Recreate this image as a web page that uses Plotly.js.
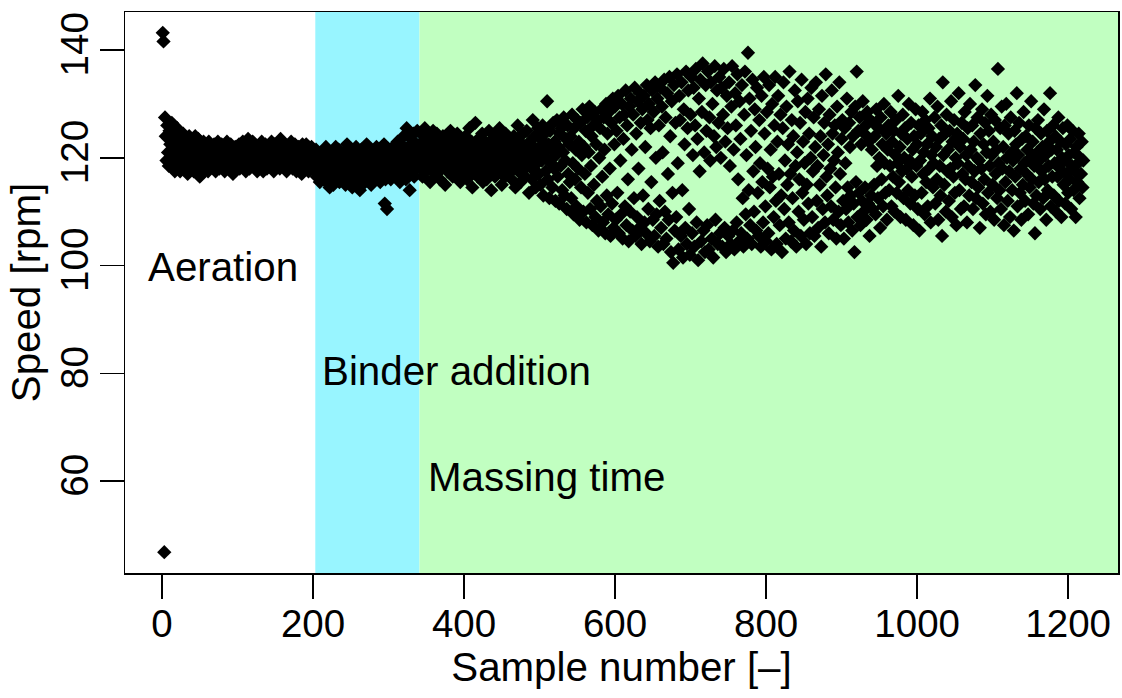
<!DOCTYPE html>
<html>
<head>
<meta charset="utf-8">
<script src="https://cdn.plot.ly/plotly-3.0.1.min.js"></script>
<style>html,body{margin:0;padding:0;background:#fff;}#chart{width:1122px;height:698px;}</style>
</head>
<body>
<div id="chart"></div>
<script>
// Speed [rpm] per sample, by process phase
const aerationSpeed = [
143.2,141.6,46.8,127.5,124.0,119.5,126.0,121.0,118.5,125.0,122.5,120.0,126.5,119.0,123.5,121.0,117.5,124.5,120.5,125.5,
118.5,122.0,124.0,117.5,123.0,120.0,121.5,124.5,118.0,122.5,119.5,123.5,120.5,117.0,122.0,124.0,119.0,121.5,118.0,123.0,
120.5,117.5,122.5,124.0,119.0,121.0,118.5,123.5,120.0,116.5,122.0,119.5,121.5,117.5,123.0,120.5,118.0,122.5,119.0,121.0,
117.5,123.0,120.0,118.5,122.0,119.5,121.5,118.0,122.5,120.0,117.5,121.5,119.0,123.0,120.5,118.0,121.0,119.5,122.5,118.5,
120.5,122.0,117.5,121.0,119.0,123.0,120.0,118.0,121.5,119.5,122.5,118.5,120.5,117.0,121.5,119.0,122.0,120.5,118.0,121.0,
119.5,122.5,118.0,120.5,121.5,118.5,123.0,120.0,119.0,122.0,117.5,121.0,119.5,123.5,120.5,118.0,122.0,119.0,121.5,123.0,
118.5,120.5,122.5,119.0,121.0,117.5,122.0,120.0,118.5,121.5,119.5,123.0,120.5,117.5,121.0,119.0,122.5,120.0,118.0,121.5,
119.5,122.0,118.5,120.5,123.0,119.0,121.0,117.5,122.5,120.0,118.5,121.5,119.5,122.0,120.5,118.0,123.5,119.0,121.0,118.5,
120.5,122.5,119.0,121.5,117.5,120.0,122.0,118.5,121.0,119.5,123.0,120.0,118.0,121.5,119.0,122.5,120.5,117.5,121.0,119.5,
122.0,118.5,120.5,121.5,117.0,122.5,119.5,120.5,118.0,121.0,122.5,119.0,120.0,117.5,121.5,119.5,118.5,122.0,120.0,118.0,
121.0,119.0
];
const binderSpeed = [
118.0,121.5,116.5,119.5,117.0,120.5,115.5,118.5,121.0,117.0,119.5,116.0,120.0,118.0,122.0,115.5,119.0,117.5,120.5,114.5,
118.5,121.0,116.5,119.0,115.0,120.5,117.5,122.0,118.0,116.0,119.5,121.5,115.5,118.0,120.0,116.5,119.0,117.0,121.0,118.5,
115.0,119.5,122.5,117.0,120.0,116.0,118.5,121.0,117.5,114.5,119.0,120.5,116.5,118.0,122.0,117.0,119.5,115.5,120.0,114.0,
118.5,121.5,116.0,119.0,117.5,120.5,115.5,118.0,122.5,117.0,119.5,116.5,120.0,118.5,115.0,121.0,117.5,119.0,116.0,120.5,
118.0,122.0,116.5,119.5,117.0,121.0,115.5,118.5,120.0,117.5,119.0,122.5,111.5,116.0,120.5,110.5,118.0,121.5,117.0,119.5,
116.0,120.5,118.5,122.0,117.5,119.0,121.5,116.5,120.0,123.0,118.0,121.0,115.5,119.5,122.5,117.5,120.5,124.0,118.5,121.5,
116.0,125.5,119.5,122.0,117.5,114.0,120.5,123.5,118.5,121.0,124.5,116.5,120.0,122.5,118.0,125.0,119.5,121.5
];
const massingSpeed = [
122.5,118.0,124.5,120.0,116.5,123.0,119.5,125.5,121.0,117.5,122.0,124.0,119.0,121.5,115.5,123.5,120.5,118.0,125.0,121.5,
117.0,122.5,120.0,124.5,118.5,121.0,123.5,116.0,120.5,122.0,118.0,124.0,119.5,121.5,115.0,122.5,120.0,117.5,123.0,119.0,
121.5,125.0,118.5,120.5,116.5,123.5,119.0,122.0,117.0,121.0,124.5,118.5,120.0,122.5,115.5,119.5,123.0,117.5,121.5,120.0,
118.0,124.0,120.5,116.0,122.5,119.0,125.5,121.0,117.5,123.0,114.5,120.0,122.0,118.5,126.5,119.5,121.5,116.5,123.5,120.5,
117.0,122.0,119.0,124.5,115.5,121.0,118.0,123.0,120.5,116.0,122.5,119.5,125.0,117.5,121.0,114.0,120.0,123.5,118.5,121.5,
116.5,124.0,119.0,122.0,117.5,120.5,125.5,118.0,121.5,115.0,123.0,119.5,121.0,116.5,124.5,120.0,118.0,122.5,117.0,121.0,
119.5,123.5,116.0,121.5,118.5,124.0,120.0,114.5,122.0,119.0,126.0,117.5,121.0,123.0,115.5,120.5,118.0,124.5,119.5,122.0,
116.5,121.5,125.0,118.5,120.0,113.5,123.0,119.0,122.5,116.0,127.0,120.5,117.5,124.0,114.5,121.0,119.0,125.5,117.0,122.0,
115.0,123.5,119.5,126.0,113.0,121.0,124.5,117.5,120.0,130.5,116.0,122.5,112.5,125.0,119.0,121.5,114.5,126.5,118.0,123.0,
112.0,120.5,127.0,116.5,122.0,111.5,124.5,118.5,125.5,114.0,121.0,127.5,113.0,119.5,123.5,110.5,126.0,117.0,122.5,115.5,
124.0,112.5,128.0,119.0,109.5,125.5,116.0,121.5,111.0,127.0,118.0,123.0,108.5,126.5,114.5,120.5,129.0,110.0,122.0,117.0,
125.0,108.0,127.5,113.5,121.0,129.5,110.5,118.5,124.0,107.5,126.0,115.0,128.5,109.0,122.5,112.0,127.0,106.5,120.0,125.5,
111.0,129.0,116.5,108.0,127.5,121.5,106.0,130.0,113.0,124.5,109.5,128.5,118.0,105.5,126.5,111.5,131.0,107.0,122.5,129.5,
108.5,125.0,113.5,131.5,106.0,127.5,119.5,109.5,130.0,105.0,123.5,128.0,111.0,132.5,107.5,126.0,116.0,104.5,129.5,110.0,
131.0,121.5,106.5,128.0,112.5,133.0,105.5,124.5,109.0,130.5,118.0,107.0,132.0,126.5,104.0,129.0,113.0,131.5,108.0,122.0,
106.0,133.5,127.0,110.5,130.0,104.5,125.5,115.5,132.5,108.5,128.5,105.5,134.0,120.0,109.5,131.0,103.5,126.0,112.0,133.0,
107.0,129.5,121.0,104.0,134.5,110.0,127.5,105.0,132.0,117.0,108.5,135.0,124.0,102.5,130.5,113.5,100.5,133.5,106.5,126.5,
109.0,135.5,119.0,103.0,131.5,127.0,105.5,134.0,114.0,101.5,129.0,122.5,107.0,136.0,104.0,125.5,132.5,110.5,102.0,128.0,
135.0,106.0,120.5,133.0,103.5,126.0,136.5,108.0,123.5,101.0,131.0,117.5,134.5,104.5,128.5,137.5,106.5,121.0,102.5,133.5,
125.0,107.5,136.0,103.0,127.5,119.5,134.0,105.0,130.0,101.5,124.0,137.0,108.5,122.0,132.5,104.0,126.5,135.0,106.0,120.0,
133.0,103.5,128.0,136.5,107.0,123.0,102.5,131.5,125.5,105.5,134.0,118.5,104.0,129.5,137.0,106.5,121.5,103.0,132.0,126.0,
108.0,135.5,116.0,104.5,130.5,123.5,106.0,133.5,112.5,103.5,128.0,136.0,109.5,120.5,105.0,139.5,114.0,131.0,107.5,125.0,
104.0,134.5,117.5,110.0,129.0,122.0,106.5,133.0,113.5,105.5,127.0,119.0,103.5,131.5,115.5,108.0,135.0,124.5,111.0,104.5,
128.5,118.0,106.0,133.5,114.5,121.5,103.0,130.0,116.5,109.0,126.0,135.0,112.0,104.0,123.0,131.5,117.0,107.5,128.0,113.0,
102.5,125.5,134.0,110.5,119.5,105.0,129.5,115.0,122.5,108.0,136.0,117.0,104.5,127.0,112.5,124.0,106.5,132.5,118.5,103.5,
121.0,130.5,110.0,116.0,126.5,105.5,134.5,113.5,123.0,108.5,119.0,128.5,104.0,115.0,131.0,111.5,124.5,106.0,120.0,133.0,
109.0,117.5,127.5,105.5,122.0,134.0,112.0,118.5,107.0,129.0,115.0,124.0,103.5,131.5,110.5,120.5,126.5,108.0,135.5,116.5,
113.0,122.5,106.0,128.0,118.0,111.0,132.5,124.5,108.5,119.5,126.0,114.5,105.0,129.5,121.0,110.0,134.0,117.0,107.5,123.5,
127.0,112.0,105.0,125.5,119.0,110.5,131.0,114.5,108.0,126.5,122.0,113.0,128.5,106.5,124.0,111.5,102.5,129.5,115.5,136.0,
109.0,125.0,113.5,127.5,107.5,122.5,112.0,130.5,110.0,124.5,114.5,126.0,108.5,128.5,111.5,123.0,105.5,127.0,113.0,121.5,
110.5,126.5,115.0,124.0,109.5,129.0,118.5,112.5,125.5,120.0,107.0,127.5,116.0,122.5,111.0,130.0,119.0,113.5,124.5,108.5,
121.5,126.0,114.0,118.5,128.5,111.0,123.0,116.5,125.0,110.0,120.5,127.0,113.5,119.0,131.5,115.5,122.0,109.0,124.5,117.5,
128.0,112.5,120.0,125.5,108.5,118.0,123.5,114.0,130.0,119.5,111.5,126.5,116.5,121.5,107.5,124.0,113.0,129.0,118.5,122.5,
110.5,126.0,106.5,119.5,124.5,113.5,128.5,117.0,121.0,109.5,127.0,115.5,122.5,111.0,125.5,118.0,131.0,108.0,120.5,124.0,
114.5,119.0,127.5,111.5,122.0,116.0,129.5,108.5,123.5,118.5,113.0,126.0,105.5,134.0,120.5,115.0,124.5,110.0,128.0,117.5,
121.5,112.0,125.0,118.0,130.5,109.0,123.0,116.5,127.0,113.5,120.0,107.5,124.5,119.0,132.0,114.0,122.0,110.5,126.5,117.0,
123.5,111.0,128.5,116.0,120.5,108.0,125.5,118.5,113.0,130.0,121.5,115.5,126.0,110.5,123.0,117.5,133.5,112.5,120.0,127.5,
114.5,119.5,107.0,124.5,118.0,129.0,111.5,122.5,116.0,126.5,109.5,121.0,131.5,113.5,125.0,118.5,110.0,128.0,120.5,115.0,
123.0,108.5,127.0,117.0,121.5,112.5,136.5,119.0,114.0,125.5,110.5,129.5,118.0,122.0,107.5,126.0,115.5,130.0,120.0,112.0,
124.5,117.5,109.0,127.5,121.0,114.0,119.5,106.5,125.0,116.5,122.5,132.0,111.0,120.5,126.5,113.5,118.0,108.5,123.5,115.0,
128.5,119.0,112.0,124.0,117.0,121.5,109.5,126.0,114.5,120.0,130.5,116.0,123.0,111.5,118.5,106.0,125.5,113.0,121.0,127.0,
115.5,119.5,110.5,124.5,117.5,122.0,112.5,129.0,116.0,120.5,108.5,125.0,114.0,118.5,123.0,132.0,111.0,121.5,116.5,126.0,
113.0,119.0,124.0,110.0,121.5,116.5,127.5,112.0,118.0,123.0,109.0,120.0,125.5,115.0,119.5,111.5,122.5,117.0,126.0,113.5,
120.5,116.0,123.5,110.5,118.5,125.0,114.0,121.0,117.5,109.0,122.0,115.5,119.0,124.5,112.5,120.0,117.0,123.0,114.5,119.5
];
// Phase labels and the first sample number of each shaded phase
const phaseNames = ['Aeration', 'Binder addition', 'Massing time'];
const phaseStartSample = [1, 203, 341];
const xTicks = [0, 200, 400, 600, 800, 1000, 1200];
const yTicks = [60, 80, 100, 120, 140];

const speed = aerationSpeed.concat(binderSpeed, massingSpeed);
const sample = speed.map((_, i) => i + 1);

const FONT = 'Liberation Sans, Arial, Helvetica, sans-serif';
const TXT = 40.3;

const trace = {
  x: sample, y: speed, type: 'scatter', mode: 'markers',
  marker: { symbol: 'diamond', size: 11, color: '#000000', line: { width: 0 } },
  hoverinfo: 'x+y', showlegend: false
};

const xMax = 1266;
const layout = {
  width: 1122, height: 698,
  margin: { l: 125, r: 4, t: 12, b: 125, pad: 0 },
  paper_bgcolor: '#ffffff', plot_bgcolor: '#ffffff',
  font: { family: FONT, color: '#000000', size: 38 },
  showlegend: false,
  xaxis: {
    range: [-49, xMax], tickvals: xTicks, ticktext: xTicks.map(String),
    ticks: 'outside', ticklen: 24, tickwidth: 1.5, tickcolor: '#000',
    ticklabelstandoff: -8,
    showline: true, mirror: true, linecolor: '#000', linewidth: 1.5,
    showgrid: false, zeroline: false,
    tickfont: { family: FONT, size: 38.5, color: '#000' },
    title: { text: 'Sample number [–]', font: { family: FONT, size: TXT, color: '#000' }, standoff: 0 }
  },
  yaxis: {
    range: [42.94, 147.06], tickvals: yTicks, ticktext: yTicks.map(String),
    tickangle: -90,
    ticks: 'outside', ticklen: 24, tickwidth: 1.5, tickcolor: '#000',
    ticklabelstandoff: -4,
    showline: true, mirror: true, linecolor: '#000', linewidth: 1.5,
    showgrid: false, zeroline: false,
    tickfont: { family: FONT, size: 38.5, color: '#000' },
    title: { text: 'Speed [rpm]', font: { family: FONT, size: TXT, color: '#000' }, standoff: 0 }
  },
  shapes: [
    { type: 'rect', xref: 'x', yref: 'paper', x0: phaseStartSample[1], x1: phaseStartSample[2], y0: 0, y1: 1,
      fillcolor: '#98F5FF', line: { width: 0 }, layer: 'below' },
    { type: 'rect', xref: 'x', yref: 'paper', x0: phaseStartSample[2], x1: xMax, y0: 0, y1: 1,
      fillcolor: '#C1FFC1', line: { width: 0 }, layer: 'below' }
  ],
  annotations: [
    { text: phaseNames[0], x: -21, y: 99.7, xref: 'x', yref: 'y', xanchor: 'left', yanchor: 'middle',
      showarrow: false, font: { family: FONT, size: TXT, color: '#000' } },
    { text: phaseNames[1], x: 209, y: 80.4, xref: 'x', yref: 'y', xanchor: 'left', yanchor: 'middle',
      showarrow: false, font: { family: FONT, size: TXT, color: '#000' } },
    { text: phaseNames[2], x: 350, y: 60.7, xref: 'x', yref: 'y', xanchor: 'left', yanchor: 'middle',
      showarrow: false, font: { family: FONT, size: TXT, color: '#000' } }
  ]
};

Plotly.newPlot('chart', [trace], layout, { displayModeBar: false, staticPlot: true });
</script>
</body>
</html>
